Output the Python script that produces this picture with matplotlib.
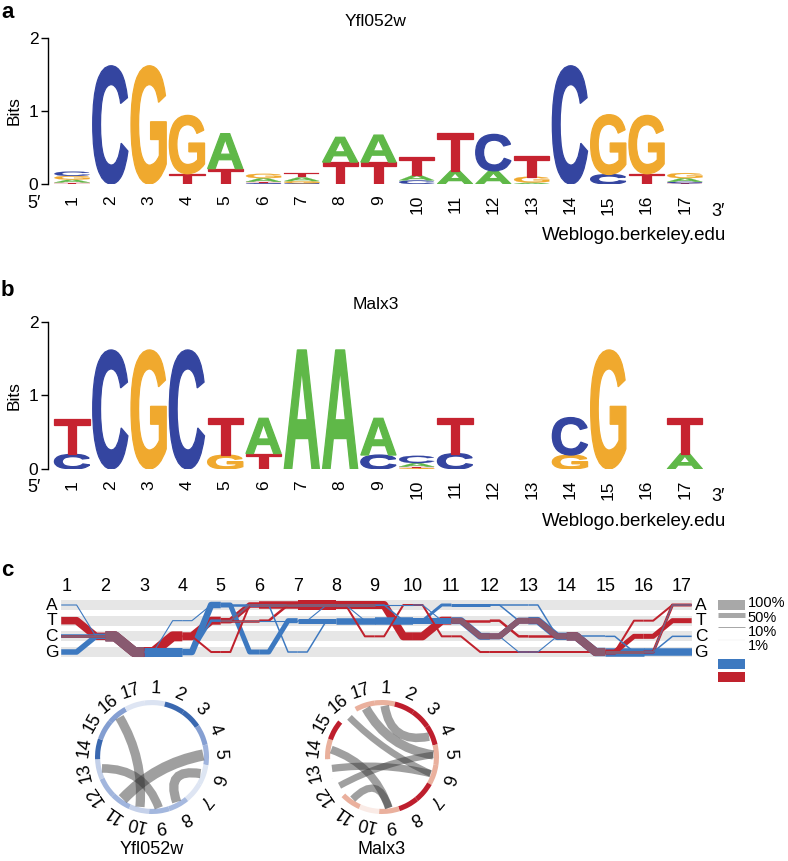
import numpy as np
import matplotlib
matplotlib.use("Agg")
import matplotlib.pyplot as plt
from matplotlib.textpath import TextPath
from matplotlib.font_manager import FontProperties
from matplotlib.patches import PathPatch, Wedge, Rectangle, Circle
from matplotlib.path import Path
from matplotlib.transforms import Affine2D
from matplotlib.colors import LinearSegmentedColormap

plt.rcParams['font.family'] = ['Liberation Sans', 'DejaVu Sans']

W, H = 788, 861

positions = list(range(1, 18))

# sequence logo heights (bits) per letter, position 1..17
yfl_A = [0.04, 0, 0, 0, 0.48, 0.05, 0.05, 0.34, 0.37, 0.07, 0.18, 0.18, 0.02, 0, 0, 0, 0.05]
yfl_C = [0.06, 1.62, 0, 0, 0, 0.01, 0.01, 0, 0, 0.05, 0, 0.50, 0, 1.62, 0.13, 0, 0.02]
yfl_G = [0.05, 0, 1.62, 0.80, 0, 0.06, 0.03, 0, 0, 0, 0, 0, 0.08, 0, 0.82, 0.80, 0.07]
yfl_T = [0.02, 0, 0, 0.14, 0.21, 0.02, 0.06, 0.30, 0.30, 0.25, 0.52, 0, 0.28, 0, 0, 0.14, 0.01]

malx_A = [0, 0, 0, 0, 0, 0.48, 1.62, 1.62, 0.50, 0.05, 0, 0, 0, 0, 0, 0, 0.21]
malx_C = [0.20, 1.62, 0, 1.62, 0, 0, 0, 0, 0.19, 0.10, 0.21, 0, 0, 0.51, 0, 0, 0]
malx_G = [0, 0, 1.62, 0, 0.19, 0, 0, 0, 0, 0.01, 0, 0, 0, 0.19, 1.62, 0, 0]
malx_T = [0.48, 0, 0, 0, 0.50, 0.21, 0, 0, 0, 0.02, 0.48, 0, 0, 0, 0, 0, 0.48]

# sequence bundles (panel c)
yfl_seqs = ["GCGGAGTTTTTCTCGGG", "CCGGAGTTTTTCTCGGG", "GCGGAAAAATAATCGGG",
            "CCGGTAGTTTAAACCGC", "ACGTAAAAAATCGCGGA", "GCGGTTTATTTCTCGGG"]
yfl_wts = [0.30, 0.20, 0.15, 0.15, 0.10, 0.10]
malx_seqs = ["TCGCTAAAACTCTCGGA", "CCGCTTAAACTTCCGCT",
             "TCGCGAAACACGGGGTA", "TCGCTAAAACTCTCGCT"]
malx_wts = [0.30, 0.25, 0.20, 0.25]
rows = ['A', 'T', 'C', 'G']
legend_pcts = ['100%', '50%', '10%', '1%']
legend_vals = [1.0, 0.5, 0.1, 0.01]

# correlated position pairs (circle panels)
yfl_chords = [(16, 10, 0.7), (5, 11, 0.85), (13, 9, 0.65), (6, 8, 0.7)]
malx_chords = [(17, 5, 0.7), (1, 4, 0.65), (16, 6, 0.5), (14, 9, 0.6),
               (13, 6, 0.55), (12, 5, 0.5), (11, 9, 0.55)]

letter_colors = {'A': '#5FB848', 'C': '#3445A0', 'G': '#F0A92E', 'T': '#C62330'}
blue = '#3D79C0'
red = '#C0222D'
mauve = '#885A70'

fig = plt.figure(figsize=(W / 100, H / 100), dpi=100)

glyph_font = FontProperties(family='Liberation Sans', weight='bold')
glyphs = {}


def draw_letter(ax, letter, x, y0, h, width=0.92):
    if letter not in glyphs:
        p = TextPath((0, 0), letter, size=1, prop=glyph_font)
        glyphs[letter] = (p, p.get_extents())
    p, ext = glyphs[letter]
    t = (Affine2D().translate(-ext.x0, -ext.y0)
         .scale(width / ext.width, h / ext.height)
         .translate(x - width / 2, y0))
    c = letter_colors[letter]
    ax.add_patch(PathPatch(t.transform_path(p), fc=c, ec=c,
                           lw=0.9 if h > 0.1 else 0.15))


def draw_logo(ax, heights, title):
    for i, pos in enumerate(positions):
        stack = sorted((heights[l][i], l) for l in heights if heights[l][i] > 0)
        y = 0
        for h, l in stack:
            draw_letter(ax, l, pos, y, h)
            y += h
    ax.set_xlim(0.373, 17.5)
    ax.set_ylim(0, 2)
    for s in ['top', 'right', 'bottom']:
        ax.spines[s].set_visible(False)
    ax.spines['left'].set_linewidth(1.0)
    ax.set_xticks(positions)
    ax.set_xticklabels([str(p) for p in positions], rotation=90, fontsize=12.5)
    ax.tick_params(axis='x', length=0, pad=8)
    ax.set_yticks([0, 1, 2])
    ax.tick_params(axis='y', length=5, width=1.0, labelsize=12.5, pad=2)
    ax.set_ylabel('Bits', fontsize=12.5, labelpad=5)
    ax.set_title(title, fontsize=12.5, pad=9)


ax_a = fig.add_axes([48 / W, 1 - 184 / H, 656 / W, 146 / H])
draw_logo(ax_a, {'A': yfl_A, 'C': yfl_C, 'G': yfl_G, 'T': yfl_T}, 'Yfl052w')
ax_b = fig.add_axes([48 / W, 1 - 469 / H, 656 / W, 147 / H])
draw_logo(ax_b, {'A': malx_A, 'C': malx_C, 'G': malx_G, 'T': malx_T}, 'Malx3')

for dy in (0, 285):
    fig.text(34 / W, 1 - (203 + dy) / H, '5\u2032', fontsize=13, ha='center', va='center')
    fig.text(718 / W, 1 - (211 + dy) / H, '3\u2032', fontsize=13, ha='center', va='center')
    fig.text(726 / W, 1 - (236 + dy) / H, 'Weblogo.berkeley.edu', fontsize=13.5,
             ha='right', va='center')

for lab, y in [('a', 12), ('b', 291), ('c', 570)]:
    fig.text(1 / W, 1 - y / H, lab, fontsize=16, fontweight='bold', ha='left', va='center')

# ---- panel c: sequence bundles ----
axc = fig.add_axes([40 / W, 1 - 690 / H, 720 / W, 110 / H])
sx, sy = 38.44, 15.67
axc.set_xlim(1 - (67 - 40) / sx, 1 + (760 - 67) / sx)
axc.set_ylim((690 - 605) / sy, -(605 - 580) / sy)
axc.axis('off')

for r in range(len(rows)):
    axc.add_patch(Rectangle((0.85, r - 0.32), 16.4, 0.64, fc='#E6E6E6', ec='none', zorder=0))
    axc.text(0.6, r, rows[r], fontsize=12.5, ha='center', va='center')
    axc.text(17.5, r, rows[r], fontsize=12.5, ha='center', va='center')
for p in positions:
    axc.text(p, -1.15, str(p), fontsize=13, ha='center', va='center')


def edge_weights(seqs, wts):
    e = {}
    for s, w in zip(seqs, wts):
        for i in range(len(s) - 1):
            k = (i, s[i], s[i + 1])
            e[k] = e.get(k, 0) + w
    return e


def edge_xy(k):
    i, a, b = k
    f = 0.25
    xs = [i + 1, i + 1 + f, i + 2 - f, i + 2]
    if i == 0:
        xs[0] = 0.85
    if i == 15:
        xs[-1] = 17.25
    ya, yb = rows.index(a), rows.index(b)
    return xs, [ya, ya, yb, yb]


def lw(w):
    return max(7.2 * w, 0.8)


eb = edge_weights(yfl_seqs, yfl_wts)
er = edge_weights(malx_seqs, malx_wts)
items = [(w, k, blue) for k, w in eb.items()] + [(w, k, red) for k, w in er.items()]
items.sort(key=lambda t: -t[0])
for w, k, c in items:
    xs, ys = edge_xy(k)
    axc.plot(xs, ys, color=c, lw=lw(w), solid_capstyle='butt',
             solid_joinstyle='round', zorder=2)
for k in eb:
    if k in er:
        xs, ys = edge_xy(k)
        axc.plot(xs, ys, color=mauve, lw=lw(min(eb[k], er[k])),
                 solid_capstyle='butt', solid_joinstyle='round', zorder=3)

leg_y = [0, 0.67, 1.4, 2.23]
leg_ty = [-0.12, 0.8, 1.72, 2.6]
for v, y, ty, t in zip(legend_vals, leg_y, leg_ty, legend_pcts):
    axc.plot([17.94, 18.64], [y, y], color='#A8A8A8', lw=7.2 * v, solid_capstyle='butt')
    axc.text(18.70, ty, t, fontsize=10.5, ha='left', va='center')
axc.add_patch(Rectangle((17.94, 3.45), 0.7, 0.64, fc=blue, ec='none', clip_on=False))
axc.add_patch(Rectangle((17.94, 4.28), 0.7, 0.64, fc=red, ec='none', clip_on=False))

# ---- circle panels ----
step = 360 / 17
blue_cmap = LinearSegmentedColormap.from_list('b', ['#EEF2F9', '#93AAD8', '#3A68B0'])
red_cmap = LinearSegmentedColormap.from_list('r', ['#FFFFFF', '#E6A38C', '#BE1E2D'])


def pos_angle(k):
    return (k - 1) * step + 3


def unit(theta):
    t = np.deg2rad(theta)
    return np.array([np.sin(t), np.cos(t)])


def draw_circle(cx, cy, bits, cmap, chords, name):
    half = 85
    R = 57
    ax = fig.add_axes([(cx - half) / W, 1 - (cy + half) / H, 2 * half / W, 2 * half / H])
    lim = half / R
    ax.set_xlim(-lim, lim)
    ax.set_ylim(-lim, lim)
    ax.axis('off')
    ax.add_patch(Circle((0, 0), 0.955, fill=False, ec='#D5D5D5', lw=0.6))
    for k, b in zip(positions, bits):
        th = pos_angle(k)
        ax.add_patch(Wedge((0, 0), 1.0, 90 - th - step / 2, 90 - th + step / 2,
                           width=0.09, fc=cmap(min(b / 1.62, 1)), ec='none'))
        lx, ly = unit(th) * 1.2
        ax.text(lx, ly, str(k), fontsize=13, ha='center', va='center', rotation=-th,
                rotation_mode='anchor')
    for a, b, w in chords:
        p0 = unit(pos_angle(a)) * 0.9
        p2 = unit(pos_angle(b)) * 0.9
        ctrl = 0.35 * (p0 + p2) / 2
        path = Path([p0, ctrl, p2], [Path.MOVETO, Path.CURVE3, Path.CURVE3])
        ax.add_patch(PathPatch(path, fill=False, ec='#343434', alpha=0.47,
                               lw=9.5 * w, capstyle='butt'))
    fig.text(cx / W, 1 - 849 / H, name, fontsize=13, ha='center', va='center')


yfl_bits = np.sum([yfl_A, yfl_C, yfl_G, yfl_T], axis=0)
malx_bits = np.sum([malx_A, malx_C, malx_G, malx_T], axis=0)
draw_circle(152, 757, yfl_bits, blue_cmap, yfl_chords, 'Yfl052w')
draw_circle(382, 757, malx_bits, red_cmap, malx_chords, 'Malx3')

fig.savefig('out.png', dpi=100)
